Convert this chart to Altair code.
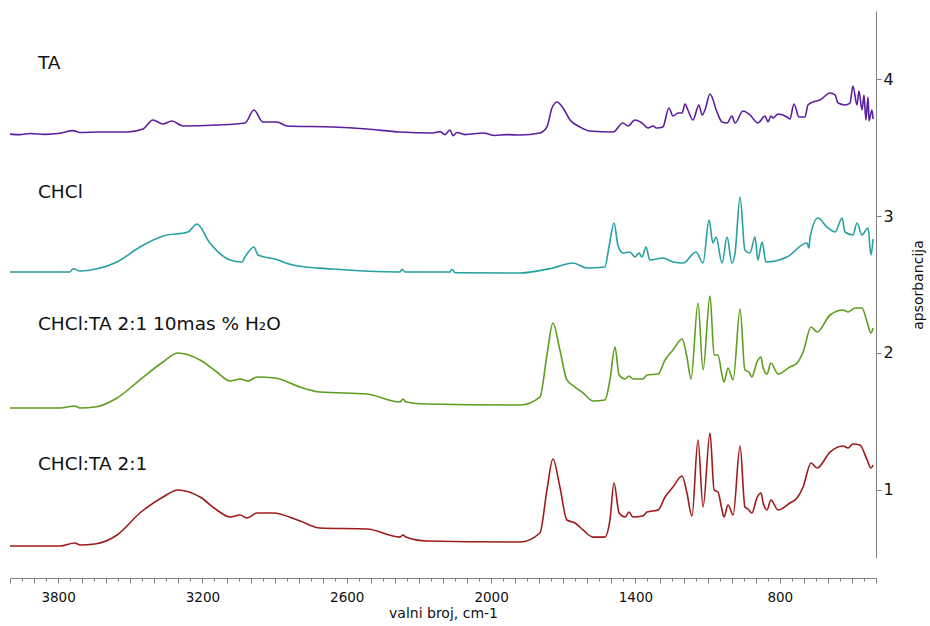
import altair as alt
import pandas as pd

series_names = ["TA", "CHCl", "CHCl:TA 2:1 10mas % H₂O", "CHCl:TA 2:1"]
series_colors = ["#5b1f9e", "#26a0a0", "#5c9e1e", "#9e1b1b"]

# label anchor (wavenumber, absorbance) for each series name
label_wn = [3884, 3884, 3884, 3884]
label_abs = [4.12, 3.18, 2.21, 1.19]

ta_wn = [4000, 3958, 3917, 3854, 3792, 3738, 3709, 3626, 3514, 3447, 3406, 3364, 3327, 3281, 3140,
         3023, 2986, 2948, 2890, 2848, 2657, 2516, 2379, 2242, 2212, 2192, 2171, 2158, 2142, 2109,
         2034, 1984, 1934, 1880, 1797, 1768, 1747, 1726, 1701, 1672, 1631, 1589, 1493, 1452, 1431,
         1402, 1373, 1348, 1327, 1310, 1286, 1261, 1244, 1223, 1206, 1194, 1182, 1161, 1136, 1123,
         1111, 1090, 1061, 1040, 1019, 999, 986, 953, 924, 891, 861, 849, 837, 828, 807,
         770, 758, 741, 720, 695, 683, 662, 633, 591, 570, 558, 529, 508, 496, 479,
         471, 458, 450, 442, 433, 429, 417, 412]
ta_abs = [3.600, 3.596, 3.604, 3.598, 3.606, 3.625, 3.612, 3.615, 3.615, 3.637, 3.703, 3.674, 3.696, 3.659, 3.666,
          3.681, 3.776, 3.688, 3.688, 3.659, 3.652, 3.637, 3.615, 3.608, 3.618, 3.596, 3.630, 3.588, 3.612, 3.596,
          3.608, 3.590, 3.596, 3.593, 3.608, 3.652, 3.791, 3.835, 3.791, 3.703, 3.652, 3.622, 3.615, 3.681, 3.659,
          3.703, 3.681, 3.644, 3.659, 3.644, 3.652, 3.791, 3.732, 3.754, 3.754, 3.820, 3.776, 3.703, 3.813, 3.740,
          3.776, 3.893, 3.761, 3.688, 3.681, 3.732, 3.681, 3.769, 3.740, 3.681, 3.732, 3.688, 3.732, 3.718, 3.747,
          3.725, 3.710, 3.820, 3.725, 3.725, 3.813, 3.835, 3.849, 3.900, 3.886, 3.827, 3.813, 3.827, 3.952, 3.813,
          3.915, 3.776, 3.886, 3.703, 3.871, 3.696, 3.776, 3.710]

chcl_wn = [4000, 3751, 3738, 3709, 3638, 3555, 3460, 3364, 3260, 3223, 3169, 3085, 3036, 3023, 2986,
           2969, 2898, 2824, 2657, 2379, 2370, 2358, 2171, 2163, 2150, 1880, 1743, 1660, 1601, 1527,
           1510, 1489, 1473, 1452, 1423, 1402, 1385, 1373, 1356, 1340, 1286, 1244, 1202, 1148, 1119,
           1094, 1078, 1065, 1040, 1019, 999, 986, 965, 945, 924, 903, 891, 874, 857, 770,
           687, 679, 674, 641, 604, 570, 541, 529, 496, 479, 458, 442, 433, 421, 412]
chcl_abs = [2.591, 2.591, 2.615, 2.599, 2.615, 2.665, 2.774, 2.855, 2.884, 2.942, 2.803, 2.679, 2.665, 2.701, 2.774,
            2.716, 2.686, 2.643, 2.613, 2.591, 2.612, 2.591, 2.591, 2.612, 2.586, 2.584, 2.621, 2.657, 2.621, 2.628,
            2.774, 2.950, 2.789, 2.730, 2.738, 2.701, 2.730, 2.701, 2.774, 2.679, 2.694, 2.665, 2.657, 2.738, 2.657,
            2.972, 2.803, 2.847, 2.657, 2.847, 2.657, 2.730, 3.140, 2.752, 2.730, 2.847, 2.679, 2.811, 2.665, 2.701,
            2.803, 2.767, 2.847, 2.986, 2.920, 2.884, 2.986, 2.884, 2.862, 2.950, 2.862, 2.899, 2.913, 2.716, 2.833]

h2o_wn = [4000, 3792, 3730, 3709, 3647, 3555, 3460, 3364, 3302, 3210, 3140, 3085, 3044, 3011, 2973,
          2898, 2794, 2711, 2516, 2379, 2366, 2354, 2267, 1880, 1797, 1768, 1743, 1714, 1685, 1651,
          1618, 1576, 1527, 1506, 1485, 1468, 1443, 1427, 1410, 1369, 1352, 1306, 1277, 1244, 1206,
          1186, 1169, 1140, 1119, 1090, 1073, 1057, 1040, 1032, 1015, 994, 965, 945, 928, 916,
          895, 878, 870, 853, 837, 807, 758, 728, 703, 670, 645, 591, 537, 516, 487,
          458, 437, 421, 412]
h2o_abs = [1.597, 1.597, 1.612, 1.597, 1.604, 1.670, 1.802, 1.933, 1.999, 1.948, 1.860, 1.794, 1.809, 1.794, 1.824,
           1.816, 1.750, 1.714, 1.699, 1.641, 1.663, 1.641, 1.626, 1.619, 1.677, 1.984, 2.218, 2.021, 1.802, 1.750,
           1.707, 1.648, 1.655, 1.802, 2.043, 1.838, 1.809, 1.831, 1.809, 1.809, 1.838, 1.845, 1.948, 2.021, 2.101,
           1.970, 1.809, 2.365, 1.875, 2.416, 1.984, 1.984, 1.838, 1.787, 1.889, 1.802, 2.321, 1.875, 1.860, 1.824,
           1.933, 1.970, 1.897, 1.845, 1.926, 1.845, 1.897, 1.926, 2.006, 2.189, 2.153, 2.277, 2.314, 2.299, 2.328,
           2.328, 2.226, 2.145, 2.182]

mix_wn = [4000, 3792, 3730, 3709, 3647, 3555, 3460, 3364, 3302, 3210, 3140, 3085, 3044, 3015, 2973,
          2907, 2794, 2711, 2516, 2379, 2366, 2354, 2267, 1880, 1797, 1768, 1743, 1714, 1685, 1651,
          1618, 1576, 1527, 1506, 1489, 1468, 1443, 1427, 1410, 1369, 1352, 1306, 1277, 1244, 1206,
          1186, 1165, 1140, 1119, 1090, 1073, 1057, 1040, 1032, 1015, 994, 965, 945, 932, 916,
          895, 878, 870, 853, 837, 807, 758, 728, 703, 670, 645, 591, 537, 516, 496,
          467, 437, 421, 412]
mix_abs = [0.588, 0.588, 0.610, 0.595, 0.602, 0.668, 0.829, 0.946, 0.997, 0.946, 0.851, 0.800, 0.814, 0.792, 0.829,
           0.829, 0.770, 0.719, 0.712, 0.653, 0.668, 0.653, 0.624, 0.617, 0.683, 0.997, 1.224, 1.019, 0.778, 0.756,
           0.705, 0.653, 0.653, 0.778, 1.048, 0.829, 0.800, 0.836, 0.800, 0.807, 0.836, 0.851, 0.946, 1.019, 1.100,
           0.975, 0.807, 1.363, 0.873, 1.414, 0.997, 0.983, 0.851, 0.800, 0.888, 0.814, 1.319, 0.873, 0.858, 0.829,
           0.939, 0.975, 0.910, 0.851, 0.924, 0.851, 0.902, 0.939, 1.019, 1.195, 1.158, 1.275, 1.319, 1.304, 1.334,
           1.326, 1.217, 1.158, 1.180]

rows = []
for name, wns, abss in zip(series_names, [ta_wn, chcl_wn, h2o_wn, mix_wn], [ta_abs, chcl_abs, h2o_abs, mix_abs]):
    for i, (w, a) in enumerate(zip(wns, abss)):
        rows.append({"series": name, "wn": w, "abs": a, "order": i})
df = pd.DataFrame(rows)
labels_df = pd.DataFrame({"series": series_names, "wn": label_wn, "abs": label_abs})

FONT = "DejaVu Sans"
x_scale = alt.Scale(domain=[400, 4000], reverse=True, nice=False, zero=False)
y_scale = alt.Scale(domain=[0.5, 4.5], nice=False, zero=False)

x_axis = alt.Axis(
    values=list(range(400, 4001, 50)),
    format="d",
    labelExpr="(datum.value - 200) % 600 == 0 ? datum.label : ''",
    labelOverlap=False,
    tickSize={"condition": {"test": "datum.value % 100 == 0", "value": 5}, "value": 3},
    offset=20,
    grid=False,
    domainColor="#808080",
    tickColor="#808080",
    labelFont=FONT,
    labelFontSize=13.5,
    labelColor="#111111",
    labelPadding=7,
    title="valni broj, cm-1",
    titleFont=FONT,
    titleFontSize=14,
    titleFontWeight="normal",
    titleColor="#111111",
    titlePadding=3,
)
y_axis = alt.Axis(
    orient="right",
    values=[1, 2, 3, 4],
    tickSize=5,
    grid=False,
    domainColor="#808080",
    tickColor="#808080",
    labelFont=FONT,
    labelFontSize=16,
    labelColor="#111111",
    labelPadding=2,
    title="apsorbancija",
    titleFont=FONT,
    titleFontSize=14,
    titleFontWeight="normal",
    titleColor="#111111",
    titleAngle=270,
    titlePadding=32,
)

color_scale = alt.Scale(domain=series_names, range=series_colors)

lines = alt.Chart(df).mark_line(strokeWidth=1.6, interpolate="monotone").encode(
    x=alt.X("wn:Q", scale=x_scale, axis=x_axis),
    y=alt.Y("abs:Q", scale=y_scale, axis=y_axis),
    color=alt.Color("series:N", scale=color_scale, legend=None),
    order="order:Q",
)

texts = alt.Chart(labels_df).mark_text(
    align="left", baseline="middle", font=FONT, fontSize=18.5, color="#111111"
).encode(
    x=alt.X("wn:Q", scale=x_scale, axis=x_axis),
    y=alt.Y("abs:Q", scale=y_scale, axis=y_axis),
    text="series:N",
)

chart = alt.layer(lines, texts).properties(
    width=866,
    height=547,
    background="white",
    autosize=alt.AutoSizeParams(type="none"),
    padding={"left": 10, "top": 11, "right": 54, "bottom": 68},
).configure_view(stroke=None)

chart.save("out.html", embed_options={"renderer": "svg", "actions": False})
